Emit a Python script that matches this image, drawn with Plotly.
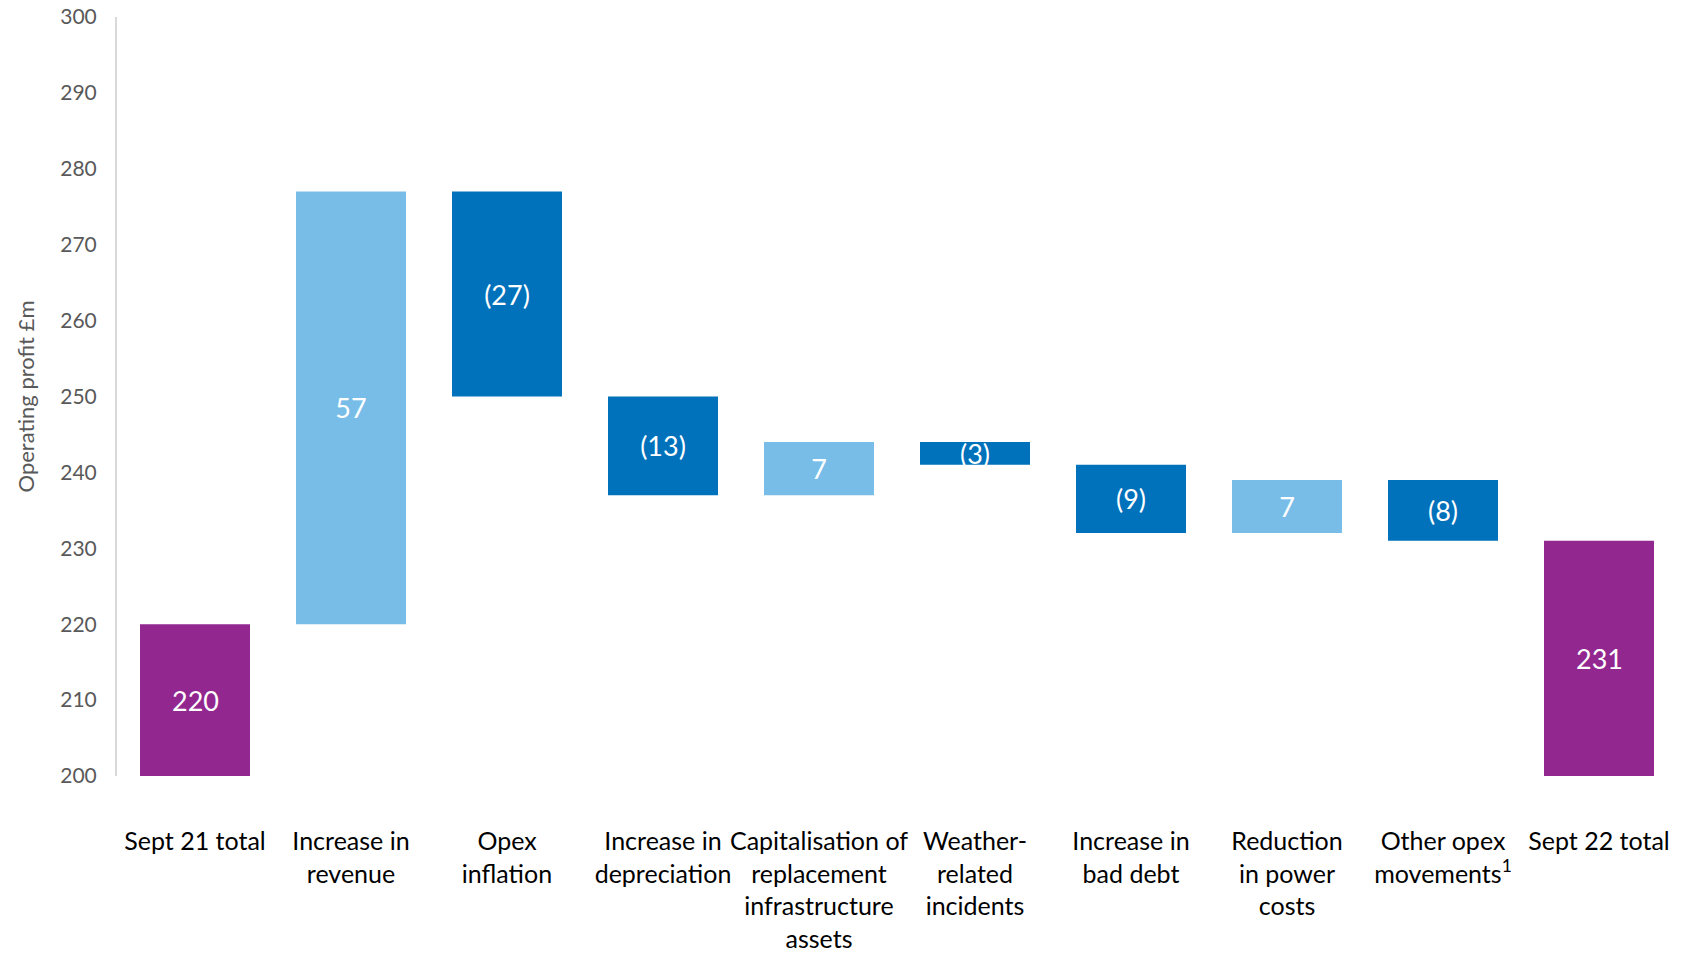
import plotly.graph_objects as go

# Operating profit bridge, Sept 21 -> Sept 22 (£m)
categories = [
    "Sept 21 total",
    "Increase in<br>revenue",
    "Opex<br>inflation",
    "Increase in<br>depreciation",
    "Capitalisation of<br>replacement<br>infrastructure<br>assets",
    "Weather-<br>related<br>incidents",
    "Increase in<br>bad debt",
    "Reduction<br>in power<br>costs",
    "Other opex<br>movements<sup>1</sup>",
    "Sept 22 total",
]
start_total = 220
movements = [57, -27, -13, 7, -3, -9, 7, -8]
y_ticks = list(range(200, 301, 10))

end_total = start_total + sum(movements)

measures = ["absolute"] + ["relative"] * len(movements) + ["total"]
values = [start_total] + movements + [end_total]

Y_MIN, Y_MAX = y_ticks[0], y_ticks[-1]


def fmt(v):
    return f"({abs(v)})" if v < 0 else f"{v}"


# Movement bars carry their own inside labels; total bars are labelled
# separately so the label sits in the middle of the visible part.
bar_text = [""] + [fmt(v) for v in movements] + [""]

PURPLE = "#92278F"
LIGHT_BLUE = "#78BDE8"
DARK_BLUE = "#0071BB"
GREY = "#595959"
FONT = "Lato"
LABEL_SIZE = 27

fig = go.Figure(
    go.Waterfall(
        x=categories,
        y=values,
        measure=measures,
        text=bar_text,
        textposition="inside",
        insidetextanchor="middle",
        textangle=0,
        textfont=dict(family=FONT, size=LABEL_SIZE, color="white"),
        increasing=dict(marker=dict(color=LIGHT_BLUE)),
        decreasing=dict(marker=dict(color=DARK_BLUE)),
        totals=dict(marker=dict(color=PURPLE)),
        connector=dict(visible=False),
        hoverinfo="skip",
    )
)

for cat, total in ((categories[0], start_total), (categories[-1], end_total)):
    fig.add_annotation(
        x=cat,
        y=(Y_MIN + total) / 2,
        text=fmt(total),
        showarrow=False,
        font=dict(family=FONT, size=LABEL_SIZE, color="white"),
    )

fig.update_layout(
    width=1681,
    height=953,
    margin=dict(l=117, r=4, t=17, b=177),
    paper_bgcolor="white",
    plot_bgcolor="white",
    showlegend=False,
    waterfallgap=0.295,
    uniformtext=dict(minsize=LABEL_SIZE, mode="show"),
    font=dict(family=FONT),
)

fig.update_yaxes(
    range=[Y_MIN, Y_MAX],
    tickvals=y_ticks,
    showgrid=False,
    zeroline=False,
    showline=True,
    linecolor="#D9D9D9",
    linewidth=2,
    ticks="",
    ticklabelstandoff=14,
    tickfont=dict(family=FONT, size=21, color=GREY),
    automargin=False,
    title=dict(
        text="Operating profit £m",
        font=dict(family=FONT, size=22, color=GREY),
        standoff=20,
    ),
)

fig.update_xaxes(
    showgrid=False,
    showline=False,
    zeroline=False,
    ticks="",
    tickangle=0,
    automargin=False,
    ticklabelstandoff=48,
    tickfont=dict(family=FONT, size=25, color="#000000"),
)

fig.write_html("out.html")
